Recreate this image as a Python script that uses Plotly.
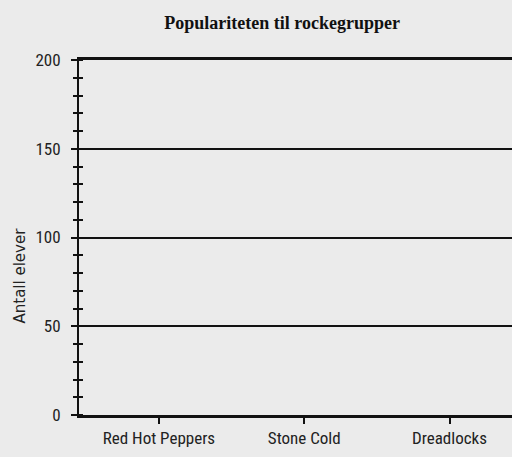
import plotly.graph_objects as go

categories = ["Red Hot Peppers", "Stone Cold", "Dreadlocks"]
values = [None, None, None]
y_ticks = [0, 50, 100, 150, 200]

bg = "#ebebeb"
tickfont = dict(family="Liberation Sans Narrow, Roboto Condensed, Arial Narrow, sans-serif", size=17, color="#222")

fig = go.Figure()
fig.add_trace(go.Bar(x=categories, y=values, marker_color="#555", showlegend=False))
fig.add_trace(go.Scatter(x=categories, y=values, yaxis="y2", showlegend=False, hoverinfo="skip"))

fig.update_layout(
    width=512, height=457,
    paper_bgcolor=bg, plot_bgcolor=bg,
    margin=dict(l=79, r=0, t=60, b=42, autoexpand=False),
    title=dict(text="<b>Populariteten til rockegrupper</b>", x=0.551, xanchor="center", y=0.950, yanchor="middle",
               font=dict(family="Liberation Serif, Times New Roman, serif", size=18, color="#111")),
    xaxis=dict(
        type="category", range=[-0.55, 2.43],
        showgrid=False, zeroline=False,
        showline=True, mirror=True, linecolor="#111", linewidth=3,
        ticks="outside", ticklen=6, tickwidth=2, tickcolor="#111",
        tickfont=tickfont,
    ),
    yaxis=dict(
        range=[0, 200], tickvals=y_ticks,
        showgrid=True, gridcolor="#111", gridwidth=2,
        zeroline=False,
        showline=True, linecolor="#111", linewidth=2,
        ticks="outside", ticklen=6, tickwidth=2, tickcolor="#111",
        ticklabelstandoff=7,
        minor=dict(dtick=10, ticks="outside", ticklen=4, tickwidth=2, tickcolor="#111", showgrid=False),
        tickfont=tickfont,
    ),
    yaxis2=dict(
        overlaying="y", side="left", anchor="x", range=[0, 200],
        showgrid=False, zeroline=False, showticklabels=False,
        tickvals=[],
        minor=dict(dtick=10, ticks="inside", ticklen=4, tickwidth=2, tickcolor="#111", showgrid=False),
    ),
    annotations=[dict(
        text="Antall elever", textangle=-90, showarrow=False,
        xref="paper", yref="paper", x=-0.137, y=0.392, xanchor="center", yanchor="middle",
        font=dict(family="DejaVu Sans, Verdana, sans-serif", size=15, color="#222"),
    )],
)

fig.write_html("out.html", config={"displayModeBar": False},
               post_script="document.body.style.margin='0';")
